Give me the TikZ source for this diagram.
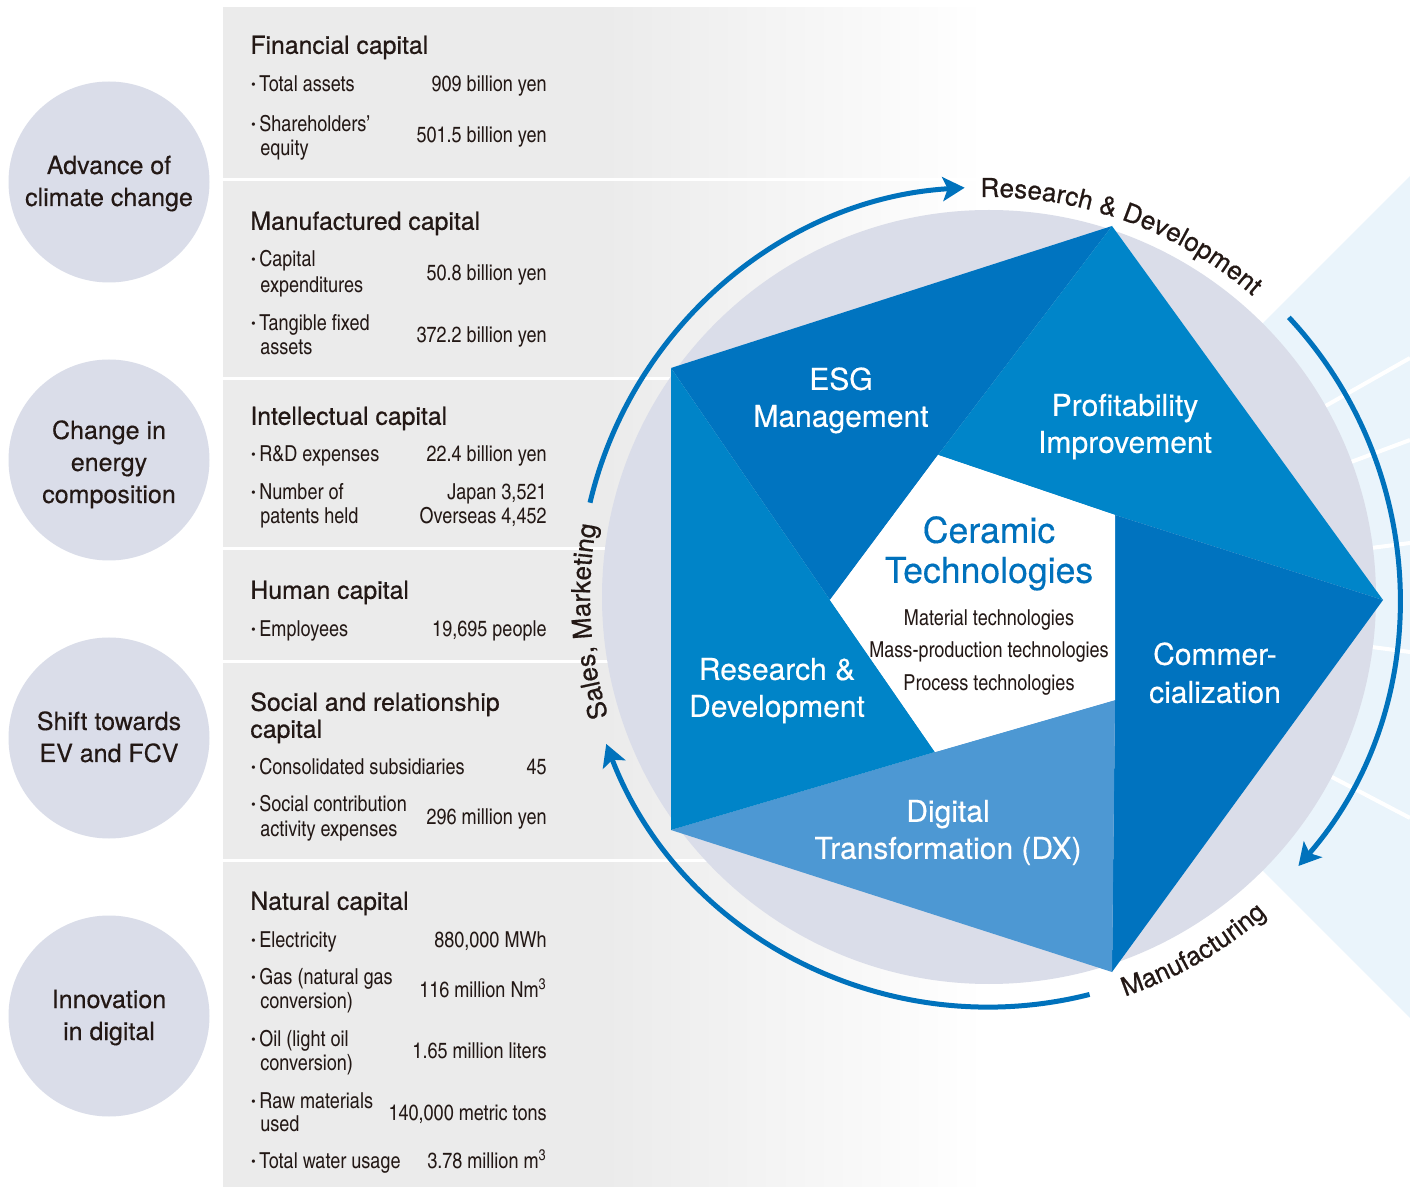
\documentclass[tikz,border=0pt]{standalone}
\usepackage{fontspec}
\setmainfont{texgyreheros}[Extension=.otf,UprightFont=*-regular,BoldFont=*-bold,ItalicFont=*-italic,BoldItalicFont=*-bolditalic]
\newfontfamily\cnfont{texgyreheroscn}[Extension=.otf,UprightFont=*-regular,BoldFont=*-bold,ItalicFont=*-italic,BoldItalicFont=*-bolditalic]
\newfontfamily\medfont{texgyreheros}[Extension=.otf,UprightFont=*-regular,BoldFont=*-bold,FakeBold=0.6]
\newfontfamily\semfont{texgyreheros}[Extension=.otf,UprightFont=*-regular,BoldFont=*-bold,FakeBold=0.35]
\usetikzlibrary{arrows.meta,decorations.text}
\definecolor{txt}{HTML}{231815}
\definecolor{pgray}{HTML}{EBEBEB}
\definecolor{lav}{HTML}{DADDE9}
\definecolor{arcblue}{HTML}{0072BC}
\definecolor{fan}{HTML}{EAF4FB}
\definecolor{bESG}{HTML}{0074C0}
\definecolor{bPROF}{HTML}{0085C9}
\definecolor{bCOMM}{HTML}{0073BF}
\definecolor{bDX}{HTML}{4D98D3}
\definecolor{bRD}{HTML}{0084C8}
\definecolor{cer}{HTML}{0071BC}
\pgfdeclarehorizontalshading{panelshade}{100bp}{color(0bp)=(pgray); color(50bp)=(pgray); color(75bp)=(white); color(100bp)=(white)}
\newcommand\bul{\makebox[4.5pt][l]{\bfseries\scalebox{1.25}{\textperiodcentered}}}
\newcommand\ringfmt{\medfont\fontsize{13}{15}\selectfont}
\newcommand\hd[3]{\node[hdst] (#1) at (250,#2) {#3};}
\newcommand\itm[3]{\node[itmst] (#1) at (250,#2) {\bul #3};}
\newcommand\itc[3]{\node[itmst] (#1) at (260,#2) {#3};}
\newcommand\val[3]{\node[valst] (#1) at (547,#2) {#3};}
\begin{document}
\begin{tikzpicture}[x=0.5pt,y=-0.5pt,
  hdst/.style={anchor=base west, yshift=-4.4pt, inner sep=0pt, font=\medfont\fontsize{12.4}{14}\selectfont, text=txt},
  itmst/.style={anchor=base west, yshift=-4pt, inner sep=0pt, font=\cnfont\fontsize{11}{13}\selectfont, text=txt},
  valst/.style={itmst, anchor=base east},
  circst/.style={anchor=base, yshift=-4.5pt, inner sep=0pt, font=\semfont\fontsize{12.5}{15}\selectfont, text=txt},
  bladest/.style={anchor=base, yshift=-5.4pt, inner sep=0pt, font=\semfont\fontsize{15}{18}\selectfont, text=white},
  cerst/.style={anchor=base, yshift=-6.4pt, inner sep=0pt, font=\semfont\fontsize{17.8}{20}\selectfont, text=cer},
  techst/.style={anchor=base, yshift=-4pt, inner sep=0pt, font=\cnfont\fontsize{11}{13}\selectfont, text=txt},
  bigcirc/.style={circle, fill=lav, minimum size=100.5pt, inner sep=0pt},
  ringarrow/.style={draw=arcblue, line width=2.5pt, -{Stealth[length=11pt,width=12pt,inset=2.5pt]}}
]
\useasboundingbox (0,0) rectangle (1410,1187);
\fill[white] (0,0) rectangle (1410,1187);
\coordinate (C) at (989,597);

% light blue fan with white rays
\coordinate (F1) at (1410,176);
\coordinate (F2) at (1410,1018);
\fill[fan] (C) -- (F1) -- (F2) -- cycle;
\foreach \n/\yy in {r1/358, r2/440, r3/543, r4/652, r5/818}{
  \coordinate (\n) at (1410,\yy);
  \draw[white, line width=2pt] (C) -- (\n);
}

% capital panels
\foreach \ya/\yb in {8/178, 182/377, 381/547, 551/660, 664/858, 862/1187}{
  \shade[shading=panelshade] (223,\ya) rectangle (985,\yb);
}

% left circles
\node[bigcirc] (c1) at (109,182) {};
\node[bigcirc] (c2) at (109,460) {};
\node[bigcirc] (c3) at (109,738) {};
\node[bigcirc] (c4) at (109,1016) {};
\node[circst] (c1a) at (109,165) {Advance of};
\node[circst] (c1b) at (109,197) {climate change};
\node[circst] (c2a) at (109,430) {Change in};
\node[circst] (c2b) at (109,462) {energy};
\node[circst] (c2c) at (109,494) {composition};
\node[circst] (c3a) at (109,721) {Shift towards};
\node[circst] (c3b) at (109,753) {EV and FCV};
\node[circst] (c4a) at (109,999) {Innovation};
\node[circst] (c4b) at (109,1031) {in digital};

% panel texts
\hd{h1}{45}{Financial capital}
\itm{i11}{84}{Total assets} \val{v11}{84}{909 billion yen}
\itm{i12}{124}{Shareholders’} \itc{i12b}{148}{equity} \val{v12}{135}{501.5 billion yen}
\hd{h2}{221}{Manufactured capital}
\itm{i21}{259}{Capital} \itc{i21b}{285}{expenditures} \val{v21}{273}{50.8 billion yen}
\itm{i22}{323}{Tangible fixed} \itc{i22b}{347}{assets} \val{v22}{335}{372.2 billion yen}
\hd{h3}{416}{Intellectual capital}
\itm{i31}{454}{R\&D expenses} \val{v31}{454}{22.4 billion yen}
\itm{i32}{492}{Number of} \itc{i32b}{516}{patents held}
\val{v32}{492}{Japan 3,521} \val{v32b}{516}{Overseas 4,452}
\hd{h4}{590}{Human capital}
\itm{i41}{629}{Employees} \val{v41}{629}{19,695 people}
\hd{h5}{702}{Social and relationship} \hd{h5b}{729}{capital}
\itm{i51}{767}{Consolidated subsidiaries} \val{v51}{767}{45}
\itm{i52}{804}{Social contribution} \itc{i52b}{828}{activity expenses} \val{v52}{817}{296 million yen}
\hd{h6}{901}{Natural capital}
\itm{i61}{939}{Electricity} \val{v61}{939}{880,000 MWh}
\itm{i62}{976}{Gas (natural gas} \itc{i62b}{1000}{conversion)} \val{v62}{989}{116 million Nm\textsuperscript{3}}
\itm{i63}{1038}{Oil (light oil} \itc{i63b}{1062}{conversion)} \val{v63}{1050}{1.65 million liters}
\itm{i64}{1100}{Raw materials} \itc{i64b}{1123}{used} \val{v64}{1112}{140,000 metric tons}
\itm{i65}{1160}{Total water usage} \val{v65}{1160}{3.78 million m\textsuperscript{3}}

% big circle
\fill[lav] (C) circle[radius=387];

% pinwheel
\coordinate (T) at (1112,226);
\coordinate (R) at (1383,600);
\coordinate (B) at (1112,972);
\coordinate (BL) at (671,830);
\coordinate (TL) at (671,368);
\coordinate (Q1) at (938,455);
\coordinate (Q2) at (1115,515);
\coordinate (Q3) at (1115,700);
\coordinate (Q4) at (935,752);
\coordinate (Q5) at (830,600);
\fill[bESG] (TL) -- (T) -- (Q1) -- (Q5) -- cycle;
\fill[bPROF] (T) -- (R) -- (Q2) -- (Q1) -- cycle;
\fill[bCOMM] (R) -- (B) -- (Q3) -- (Q2) -- cycle;
\fill[bDX] (B) -- (BL) -- (Q4) -- (Q3) -- cycle;
\fill[bRD] (BL) -- (TL) -- (Q5) -- (Q4) -- cycle;
\fill[white] (Q1) -- (Q2) -- (Q3) -- (Q4) -- (Q5) -- cycle;

% blade labels
\node[bladest] (esg1) at (841,379) {ESG};
\node[bladest] (esg2) at (841,416) {Management};
\node[bladest] (pro1) at (1125,405) {Profitability};
\node[bladest] (pro2) at (1125,442) {Improvement};
\node[bladest] (com1) at (1215,654) {Commer-};
\node[bladest] (com2) at (1215,692) {cialization};
\node[bladest] (rd1) at (777,669) {Research \&};
\node[bladest] (rd2) at (777,706) {Development};
\node[bladest] (dx1) at (948,811) {Digital};
\node[bladest] (dx2) at (948,848) {Transformation (DX)};

% center
\node[cerst] (cer1) at (989,530) {Ceramic};
\node[cerst] (cer2) at (989,570) {Technologies};
\node[techst] (t1) at (989,618) {Material technologies};
\node[techst] (t2) at (989,650) {Mass-production technologies};
\node[techst] (t3) at (989,682) {Process technologies};

% ring arrows
\draw[ringarrow] (C) ++(-166.7:410) arc[start angle=-166.7, end angle=-93.4, radius=410];
\draw[ringarrow] (C) ++(-43:410) arc[start angle=-43, end angle=41, radius=410];
\draw[ringarrow] (C) ++(75.8:410) arc[start angle=75.8, end angle=159, radius=410];

% ring labels
\path[decorate, decoration={text along path, text align=center, text color=txt,
  text={|\ringfmt|Research {\&} Development}}]
  (C) ++(-105:400) arc[start angle=-105, end angle=-35, radius=400];
\path[decorate, decoration={text along path, text align=center, text color=txt,
  text={|\ringfmt|Manufacturing}}]
  (C) ++(90:422) arc[start angle=90, end angle=30, radius=422];
\path[decorate, decoration={text along path, text align=center, text color=txt,
  text={|\ringfmt|Sales, Marketing}}]
  (C) ++(-218.5:399) arc[start angle=-218.5, end angle=-148.5, radius=399];
\end{tikzpicture}
\end{document}
